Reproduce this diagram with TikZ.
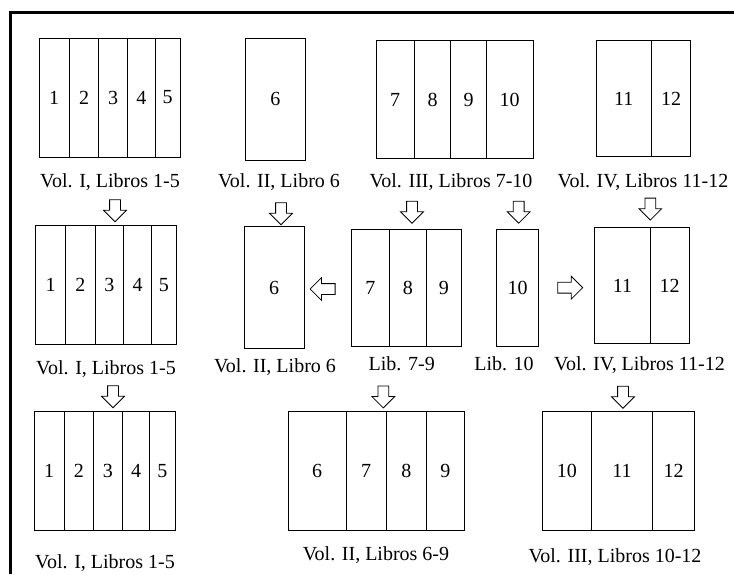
\documentclass[tikz,border=0pt]{standalone}
\usepackage{fontspec}
\setmainfont{Liberation Serif}
\usetikzlibrary{shapes.arrows}
\tikzset{
  cell/.style={draw, line width=.9pt, inner sep=0pt, font=\fontsize{20}{24}\selectfont},
  caption/.style={anchor=base, inner sep=0pt, font=\fontsize{20}{24}\selectfont},
  hollow/.style={single arrow, draw, fill=white, line width=.8pt, inner sep=5pt,
    single arrow head extend=6pt, minimum height=22pt}
}
\begin{document}
\begin{tikzpicture}[x=1pt,y=-1pt]
  \useasboundingbox (0,0) rectangle (734,574);
  \draw[line width=3pt] (10,574) -- (10,12.5) -- (734,12.5);
  % first row
  \node[cell, minimum width=30.3, minimum height=119] (t1) at (54.2,97.5) {1};
  \node[cell, minimum width=29.4, minimum height=119] (t2) at (84,97.5) {2};
  \node[cell, minimum width=29, minimum height=119] (t3) at (113.2,97.5) {3};
  \node[cell, minimum width=27.3, minimum height=119] (t4) at (141.4,97.5) {4};
  \node[cell, minimum width=25, minimum height=119] (t5) at (167.5,97.5) {5};
  \node[caption] (tvolI) at (110,187) {Vol. I, Libros 1-5};
  \node[cell, minimum width=60.5, minimum height=122] (t6) at (275.3,99) {6};
  \node[caption] (tvolII) at (279,187) {Vol. II, Libro 6};
  \node[cell, minimum width=38.3, minimum height=118] (t7) at (395.2,99.7) {7};
  \node[cell, minimum width=36.4, minimum height=118] (t8) at (432.5,99.7) {8};
  \node[cell, minimum width=35.6, minimum height=118] (t9) at (468.5,99.7) {9};
  \node[cell, minimum width=46.7, minimum height=118] (t10) at (509.7,99.7) {10};
  \node[caption] (tvolIII) at (451,187) {Vol. III, Libros 7-10};
  \node[cell, minimum width=55.3, minimum height=115.3] (t11) at (623.7,98.4) {11};
  \node[cell, minimum width=39.4, minimum height=115.3] (t12) at (671,98.4) {12};
  \node[caption] (tvolIV) at (643,187) {Vol. IV, Libros 11-12};
  % second row
  \node[hollow, rotate=-90] (dI) at (115,208) {};
  \node[cell, minimum width=30, minimum height=119.7] (m1) at (50.7,284.9) {1};
  \node[cell, minimum width=29.3, minimum height=119.7] (m2) at (80.4,284.9) {2};
  \node[cell, minimum width=28.7, minimum height=119.7] (m3) at (109.4,284.9) {3};
  \node[cell, minimum width=28, minimum height=119.7] (m4) at (137.7,284.9) {4};
  \node[cell, minimum width=24.3, minimum height=119.7] (m5) at (163.9,284.9) {5};
  \node[caption] (mvolI) at (106,374.3) {Vol. I, Libros 1-5};
  \node[hollow, rotate=-90] (dII) at (281,211) {};
  \node[cell, minimum width=60.3, minimum height=121.6] (m6) at (274.2,287.5) {6};
  \node[caption] (mvolII) at (275,372.3) {Vol. II, Libro 6};
  \node[hollow, rotate=180, minimum height=25] (lII) at (325.3,289) {};
  \node[hollow, rotate=-90] (dIII) at (412,209.5) {};
  \node[cell, minimum width=38.5, minimum height=117.4] (m7) at (370.3,288) {7};
  \node[cell, minimum width=36.5, minimum height=117.4] (m8) at (407.8,288) {8};
  \node[cell, minimum width=35.5, minimum height=117.4] (m9) at (443.8,288) {9};
  \node[caption] (mlib79) at (401.7,370) {Lib. 7-9};
  \node[hollow, rotate=-90] (dX) at (518.7,209.5) {};
  \node[cell, minimum width=42.4, minimum height=117.4] (m10) at (517.5,288) {10};
  \node[caption] (mlib10) at (504,370) {Lib. 10};
  \node[hollow, minimum height=25] (rIV) at (567.5,287.7) {};
  \node[hollow, rotate=-90] (dIV) at (650.3,206.4) {};
  \node[cell, minimum width=55.3, minimum height=115.6] (m11) at (622.4,285.5) {11};
  \node[cell, minimum width=39.3, minimum height=115.6] (m12) at (669.7,285.5) {12};
  \node[caption] (mvolIV) at (639.5,370) {Vol. IV, Libros 11-12};
  % third row
  \node[hollow, rotate=-90] (bdI) at (113,394) {};
  \node[cell, minimum width=30.3, minimum height=119] (b1) at (49.2,471.2) {1};
  \node[cell, minimum width=29, minimum height=119] (b2) at (78.8,471.2) {2};
  \node[cell, minimum width=29, minimum height=119] (b3) at (107.8,471.2) {3};
  \node[cell, minimum width=27.4, minimum height=119] (b4) at (136,471.2) {4};
  \node[cell, minimum width=25.3, minimum height=119] (b5) at (162.4,471.2) {5};
  \node[caption] (bvolI) at (105,568.3) {Vol. I, Libros 1-5};
  \node[hollow, rotate=-90] (bdII) at (383.3,394.2) {};
  \node[cell, minimum width=57.7, minimum height=119.5] (b6) at (317.2,470.8) {6};
  \node[cell, minimum width=40.3, minimum height=119.5] (b7) at (366.2,470.8) {7};
  \node[cell, minimum width=40, minimum height=119.5] (b8) at (406.3,470.8) {8};
  \node[cell, minimum width=38, minimum height=119.5] (b9) at (445.3,470.8) {9};
  \node[caption] (bvolII) at (376,560.7) {Vol. II, Libros 6-9};
  \node[hollow, rotate=-90] (bdIII) at (623,394.5) {};
  \node[cell, minimum width=48.3, minimum height=119] (b10) at (566.9,471.2) {10};
  \node[cell, minimum width=61.7, minimum height=119] (b11) at (621.9,471.2) {11};
  \node[cell, minimum width=41.6, minimum height=119] (b12) at (673.5,471.2) {12};
  \node[caption] (bvolIII) at (615,562.3) {Vol. III, Libros 10-12};
\end{tikzpicture}
\end{document}
